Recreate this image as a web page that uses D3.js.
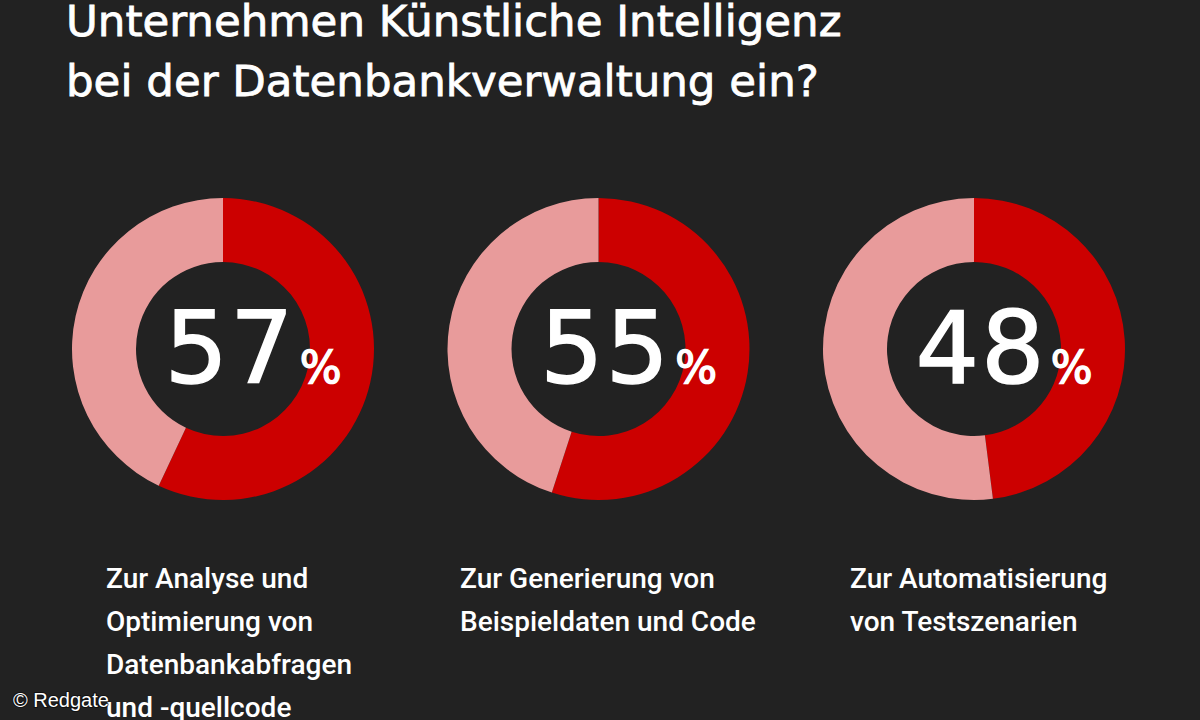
<!DOCTYPE html><html><head><meta charset="utf-8"><script src="https://cdn.jsdelivr.net/npm/d3@7"></script>
<style>body{margin:0;background:#222}svg{display:block}</style></head><body><svg id="c" width="1200" height="720"></svg>
<script>
const titleLines=["Unternehmen Künstliche Intelligenz","bei der Datenbankverwaltung ein?"];
const values=[57,55,48];
const labels=[["Zur Analyse und","Optimierung von","Datenbankabfragen","und -quellcode"],["Zur Generierung von","Beispieldaten und Code"],["Zur Automatisierung","von Testszenarien"]];
const credit="© Redgate";
const LABEL_LEFT=[106,460,850];
const svg=d3.select("#c");
svg.append("rect").attr("width",1200).attr("height",720).attr("fill","#222222");
svg.selectAll("text.t").data(titleLines).join("text").attr("x",66).attr("y",(d,i)=>36+i*60)
 .attr("fill","#fff").attr("font-family","'DejaVu Sans'").attr("font-size",43.5).attr("stroke","#fff").attr("stroke-width",0.8).text(d=>d);
const x=d3.scalePoint().domain(d3.range(values.length)).range([223,974]);
const arc=d3.arc().innerRadius(87).outerRadius(151);
const pie=d3.pie().sort(null);
values.forEach((v,i)=>{
 const g=svg.append("g").attr("transform",`translate(${x(i)},349)`);
 const cols=["#cc0000","#e89b9b"];
 g.selectAll("path").data(pie([v,100-v])).join("path").attr("d",arc).attr("fill",(d,j)=>cols[j]);
 const t=g.append("text").attr("text-anchor","middle").attr("x",30).attr("y",34).attr("fill","#fff").attr("stroke","#fff").attr("stroke-width",1.5).attr("font-family","'DejaVu Sans'");
 t.append("tspan").attr("font-size",100).attr("letter-spacing",2).text(v);
 t.append("tspan").attr("font-size",44).attr("dx",4).text("%");
 svg.append("g").selectAll("text").data(labels[i]).join("text").attr("x",LABEL_LEFT[i]).attr("y",(d,k)=>588+k*43)
  .attr("fill","#fff").attr("font-family","Roboto").attr("font-weight",500).attr("font-size",28).text(d=>d);
});
svg.append("text").attr("x",13).attr("y",707).attr("fill","#fff").attr("font-family","'Liberation Sans'").attr("font-size",20)
 .attr("style","paint-order:stroke").attr("stroke","rgba(0,0,0,0.5)").attr("stroke-width",2).text(credit);
</script></body></html>
